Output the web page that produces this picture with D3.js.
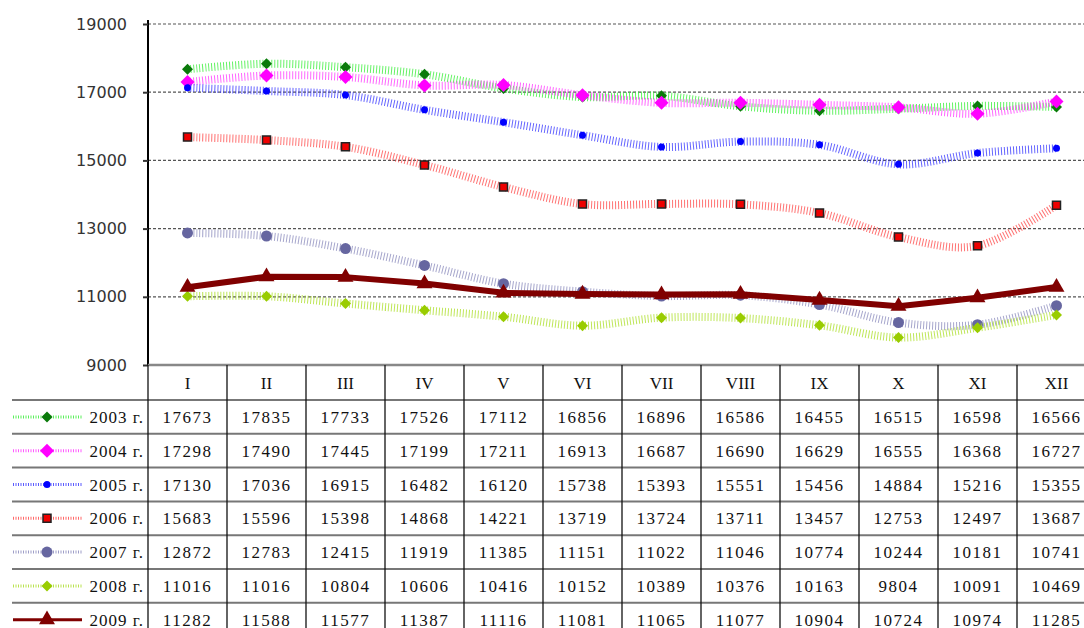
<!DOCTYPE html>
<html>
<head>
<meta charset="utf-8">
<script src="https://cdn.jsdelivr.net/npm/d3@7"></script>
<style>
  body { margin: 0; background: #fff; }
  svg { display: block; }
</style>
</head>
<body>
<svg width="1084" height="628"></svg>
<script>
const months = ["I", "II", "III", "IV", "V", "VI", "VII", "VIII", "IX", "X", "XI", "XII"];
const years = ["2003 г.", "2004 г.", "2005 г.", "2006 г.", "2007 г.", "2008 г.", "2009 г."];
const v2003 = [17673, 17835, 17733, 17526, 17112, 16856, 16896, 16586, 16455, 16515, 16598, 16566];
const v2004 = [17298, 17490, 17445, 17199, 17211, 16913, 16687, 16690, 16629, 16555, 16368, 16727];
const v2005 = [17130, 17036, 16915, 16482, 16120, 15738, 15393, 15551, 15456, 14884, 15216, 15355];
const v2006 = [15683, 15596, 15398, 14868, 14221, 13719, 13724, 13711, 13457, 12753, 12497, 13687];
const v2007 = [12872, 12783, 12415, 11919, 11385, 11151, 11022, 11046, 10774, 10244, 10181, 10741];
const v2008 = [11016, 11016, 10804, 10606, 10416, 10152, 10389, 10376, 10163, 9804, 10091, 10469];
const v2009 = [11282, 11588, 11577, 11387, 11116, 11081, 11065, 11077, 10904, 10724, 10974, 11285];
const yTicks = [9000, 11000, 13000, 15000, 17000, 19000];

const series = [
  { name: years[0], values: v2003, line: "#33ee33", mark: "#0a7a0a", shape: "diamond", size: 11, smooth: true },
  { name: years[1], values: v2004, line: "#ff33ff", mark: "#ff00ff", shape: "diamond", size: 14, smooth: true },
  { name: years[2], values: v2005, line: "#3333ff", mark: "#0000ff", shape: "circle", size: 7, smooth: true },
  { name: years[3], values: v2006, line: "#ff4444", mark: "#ee0000", shape: "square", size: 8, smooth: true },
  { name: years[4], values: v2007, line: "#8888bb", mark: "#6666a0", shape: "circle", size: 11, smooth: true },
  { name: years[5], values: v2008, line: "#aadd22", mark: "#99cc00", shape: "diamond", size: 11, smooth: true },
  { name: years[6], values: v2009, line: "#800000", mark: "#800000", shape: "triangle", size: 16, smooth: false }
];

const svg = d3.select("svg");
const plotLeft = 148, plotTop = 24, plotBottom = 365;
const colW = 79;
const x = d3.scaleBand().domain(months).range([plotLeft, plotLeft + colW * 12]).padding(0);
const y = d3.scaleLinear().domain([9000, 19000]).range([plotBottom, plotTop]);
const cx = m => x(m) + x.bandwidth() / 2;

// gridlines
svg.append("g")
  .selectAll("line")
  .data(yTicks.filter(t => t > 9000))
  .join("line")
  .attr("x1", plotLeft).attr("x2", 1084)
  .attr("y1", d => y(d)).attr("y2", d => y(d))
  .attr("stroke", "#555").attr("stroke-width", 1.2)
  .attr("stroke-dasharray", "3 2");

// y axis
const yAxis = svg.append("g")
  .attr("transform", `translate(${plotLeft},0)`)
  .call(d3.axisLeft(y).tickValues(yTicks).tickSize(5).tickPadding(16).tickFormat(d3.format("d")));
yAxis.select(".domain").attr("stroke", "#000").attr("stroke-width", 2).attr("d", `M0,${plotTop - 4}V${plotBottom}`);
yAxis.selectAll(".tick line").attr("stroke", "#333").attr("stroke-width", 2);
yAxis.selectAll(".tick text")
  .attr("font-family", "DejaVu Sans, Verdana, sans-serif")
  .attr("font-size", 16).attr("fill", "#333");

function symbolFor(shape, size) {
  if (shape === "diamond") {
    // a square turned by 45 degrees, as in the original
    return d3.symbol().type(d3.symbolSquare).size(size * size / 2)();
  }
  const t = { circle: d3.symbolCircle, square: d3.symbolSquare, triangle: d3.symbolTriangle }[shape];
  const area = shape === "circle" ? Math.PI * size * size / 4 : shape === "triangle" ? size * size * 0.43 : size * size;
  return d3.symbol().type(t).size(area)();
}

function drawLine(g, s, pts) {
  const line = d3.line().x(d => d[0]).y(d => d[1])
    .curve(s.smooth ? d3.curveCardinal.tension(0) : d3.curveLinear);
  if (s.smooth) {
    g.append("path").attr("d", line(pts))
      .attr("fill", "none").attr("stroke", s.line).attr("stroke-width", 8)
      .attr("stroke-dasharray", "1 2").attr("opacity", 0.75);
  } else {
    g.append("path").attr("d", line(pts))
      .attr("fill", "none").attr("stroke", s.line).attr("stroke-width", 6)
      .attr("stroke-linejoin", "round");
  }
}

function drawMarker(g, s, px, py) {
  g.append("path")
    .attr("d", symbolFor(s.shape, s.size))
    .attr("transform", `translate(${px},${py})` + (s.shape === "diamond" ? " rotate(45)" : ""))
    .attr("fill", s.mark)
    .attr("stroke", s.shape === "square" ? "#222" : "none")
    .attr("stroke-width", 1.5);
}

// series in the plot
const plot = svg.append("g");
series.forEach(s => {
  const g = plot.append("g");
  const pts = s.values.map((v, i) => [cx(months[i]), y(v)]);
  drawLine(g, s, pts);
  pts.forEach(p => drawMarker(g, s, p[0], p[1]));
});

// data table
const headH = 35, rowH = 33.8;
const tableTop = plotBottom;
const rowTop = i => tableTop + headH + i * rowH;
const tbl = svg.append("g");

// header labels
tbl.selectAll("text.month")
  .data(months)
  .join("text")
  .attr("x", d => cx(d)).attr("y", tableTop + headH / 2 + 6)
  .attr("text-anchor", "middle")
  .attr("font-family", "Liberation Serif, Times New Roman, serif")
  .attr("font-size", 17).attr("fill", "#111")
  .text(d => d);

// values
series.forEach((s, r) => {
  tbl.append("g").selectAll("text")
    .data(s.values)
    .join("text")
    .attr("x", (d, i) => cx(months[i])).attr("y", rowTop(r) + rowH / 2 + 6)
    .attr("text-anchor", "middle")
    .attr("font-family", "Liberation Serif, Times New Roman, serif")
    .attr("font-size", 17).attr("letter-spacing", 1.5).attr("fill", "#111")
    .text(d => d);
  // legend label
  tbl.append("text")
    .attr("x", plotLeft - 4).attr("y", rowTop(r) + rowH / 2 + 6)
    .attr("text-anchor", "end")
    .attr("font-family", "Liberation Serif, Times New Roman, serif")
    .attr("font-size", 17).attr("letter-spacing", 1).attr("fill", "#111")
    .text(s.name);
  // legend sample
  const lg = tbl.append("g");
  const ly = rowTop(r) + rowH / 2;
  if (s.smooth) {
    lg.append("line").attr("x1", 13).attr("x2", 82).attr("y1", ly).attr("y2", ly)
      .attr("stroke", s.line).attr("stroke-width", 3).attr("stroke-dasharray", "1 1.5").attr("opacity", 0.8);
  } else {
    lg.append("line").attr("x1", 13).attr("x2", 82).attr("y1", ly).attr("y2", ly)
      .attr("stroke", s.line).attr("stroke-width", 3);
  }
  drawMarker(lg, s, 47, ly);
});

// table grid: horizontal
const hLines = d3.range(series.length).map(i => rowTop(i));
tbl.selectAll("line.h")
  .data(hLines)
  .join("line")
  .attr("x1", 12).attr("x2", 1084)
  .attr("y1", d => d).attr("y2", d => d)
  .attr("stroke", "#777").attr("stroke-width", 2);
tbl.append("line")
  .attr("x1", plotLeft).attr("x2", 1084)
  .attr("y1", tableTop).attr("y2", tableTop)
  .attr("stroke", "#888").attr("stroke-width", 2.5);

// table grid: vertical
tbl.selectAll("line.v")
  .data(months.map(m => x(m)).concat([x(months[11]) + colW]))
  .join("line")
  .attr("x1", d => d).attr("x2", d => d)
  .attr("y1", tableTop).attr("y2", 628)
  .attr("stroke", "#111").attr("stroke-width", 1.3);
</script>
</body>
</html>
